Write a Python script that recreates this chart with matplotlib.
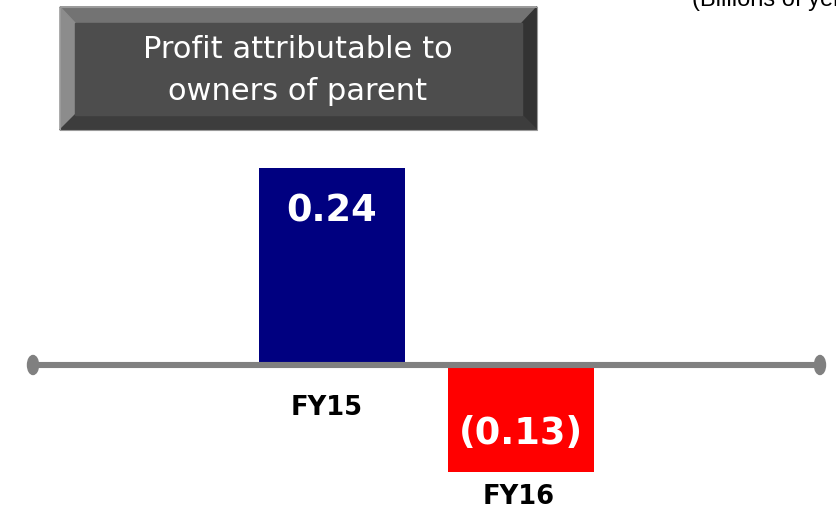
import matplotlib.pyplot as plt
from matplotlib.patches import Polygon, Ellipse

# data
categories = ['FY15', 'FY16']
values = [0.24, -0.13]
value_labels = ['0.24', '(0.13)']
bar_colors = ['#000080', '#ff0000']

W, H = 836, 511
fig = plt.figure(figsize=(W / 100, H / 100), dpi=100)

# main axes: x in pixel-like positions, y in value units (0 at pixel row 365)
ax = fig.add_axes([0, 0, 1, 1])
px_per_unit = 821.0
ax.set_xlim(0, W)
ax.set_ylim(-(H - 365) / px_per_unit, 365 / px_per_unit)
ax.axis('off')

xpos = [332, 521]
ax.bar(xpos, values, width=146, color=bar_colors, zorder=2)

# baseline with rounded end caps
ax.plot([33, 820], [0, 0], color='#808080', lw=4.4, zorder=3, solid_capstyle='butt')
for xe in (33, 820):
    ax.add_patch(Ellipse((xe, 0), 11, 19 / px_per_unit, color='#808080', zorder=3))

# value labels inside bars
ax.text(xpos[0], 0.24 - 43 / px_per_unit, value_labels[0], color='white', fontsize=26.5,
        fontweight='bold', ha='center', va='center', zorder=4)
ax.text(xpos[1], -(433 - 365) / px_per_unit, value_labels[1], color='white', fontsize=26.5,
        fontweight='bold', ha='center', va='center', zorder=4)

# category labels
ax.text(327, -(408 - 365) / px_per_unit, categories[0], fontsize=18.5, fontweight='bold',
        ha='center', va='center', color='black')
ax.text(519, -(497 - 365) / px_per_unit, categories[1], fontsize=18.5, fontweight='bold',
        ha='center', va='center', color='black')

# overlay in pixel coords for the bevelled title box
ov = fig.add_axes([0, 0, 1, 1], facecolor='none')
ov.set_xlim(0, W)
ov.set_ylim(H, 0)
ov.axis('off')

x0, x1, y0, y1 = 60, 537, 7, 130
ix0, ix1, iy0, iy1 = 75, 522, 23, 115
ov.add_patch(Polygon([(x0, y0), (x1, y0), (ix1, iy0), (ix0, iy0)], color='#737373'))
ov.add_patch(Polygon([(x0, y0), (ix0, iy0), (ix0, iy1), (x0, y1)], color='#8c8c8c'))
ov.add_patch(Polygon([(x1, y0), (x1, y1), (ix1, iy1), (ix1, iy0)], color='#333333'))
ov.add_patch(Polygon([(x0, y1), (ix0, iy1), (ix1, iy1), (x1, y1)], color='#3d3d3d'))
ov.add_patch(Polygon([(ix0, iy0), (ix1, iy0), (ix1, iy1), (ix0, iy1)], color='#4d4d4d'))
ov.add_patch(Polygon([(x0, y0), (x1, y0), (x1, y1), (x0, y1)], fill=False,
                     edgecolor='#9a9a9a', lw=0.8))
ov.text(298, 50, 'Profit attributable to', color='white', fontsize=22,
        ha='center', va='center')
ov.text(298, 91, 'owners of parent', color='white', fontsize=22,
        ha='center', va='center')

# unit note, partly off the page as in the original slide crop
ov.text(692, 6, '(Billions of yen)', fontsize=17, family='Liberation Sans',
        ha='left', va='baseline', color='black')

fig.savefig('out.png', dpi=100)
